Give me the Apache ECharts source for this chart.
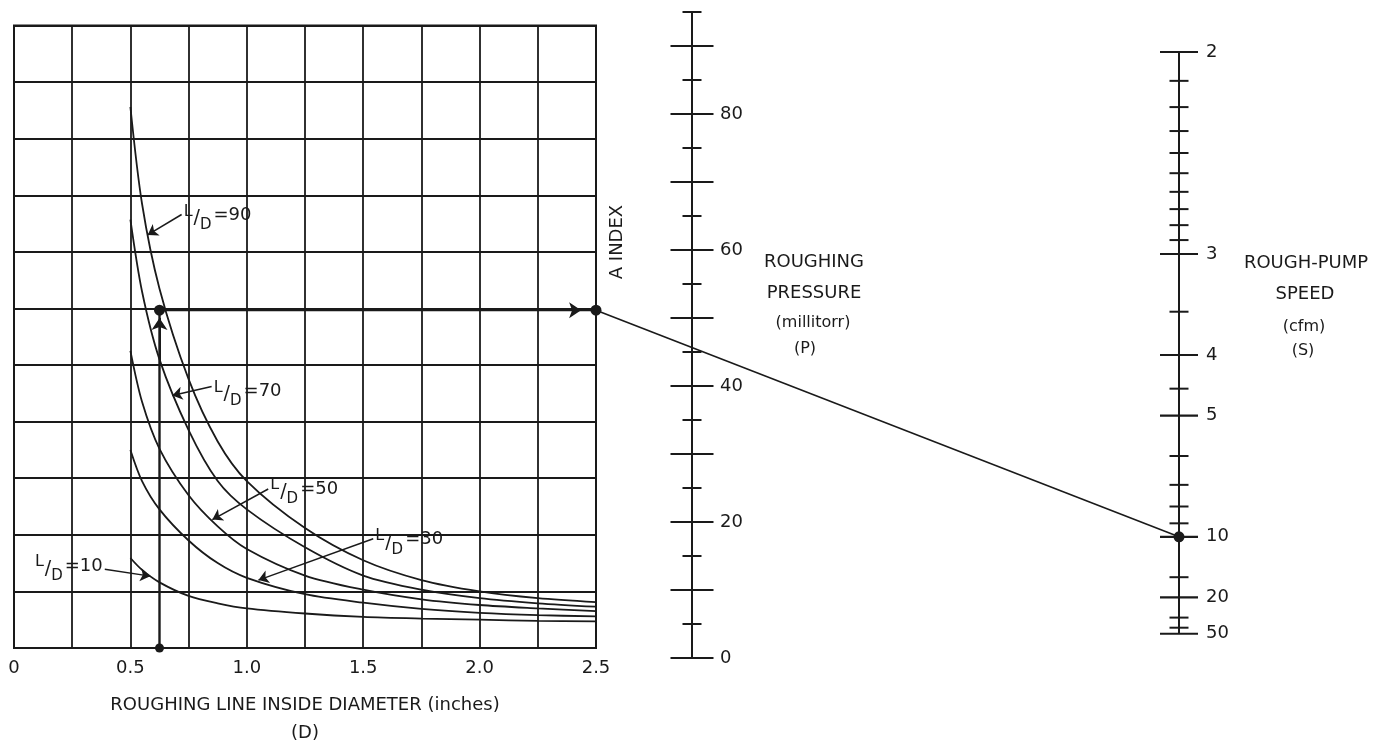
<!DOCTYPE html>
<html>
<head>
<meta charset="utf-8">
<script src="https://cdn.jsdelivr.net/npm/echarts@6/dist/echarts.min.js"></script>
<style>
html,body{margin:0;padding:0;background:#ffffff;}
#chart{width:1394px;height:752px;}
</style>
</head>
<body>
<div id="chart"></div>
<script>
// ---------------- DATA ----------------
const diameters   = [0.5, 0.55, 0.625, 0.75, 0.875, 1.0, 1.25, 1.5, 1.75, 2.0, 2.25, 2.5];
const ldRatios    = [90, 70, 50, 30, 10];
const aIndexLD90  = [9.56, 7.85, 6.35, 4.75, 3.65, 2.95, 2.12, 1.55, 1.20, 1.00, 0.88, 0.81];
const aIndexLD70  = [7.57, 6.30, 5.10, 3.85, 2.95, 2.45, 1.78, 1.28, 1.03, 0.88, 0.79, 0.73];
const aIndexLD50  = [5.25, 4.35, 3.52, 2.70, 2.15, 1.75, 1.28, 1.03, 0.86, 0.76, 0.70, 0.65];
const aIndexLD30  = [3.50, 2.95, 2.45, 1.90, 1.50, 1.24, 0.95, 0.80, 0.69, 0.62, 0.58, 0.56];
const aIndexLD10  = [1.59, 1.38, 1.16, 0.92, 0.79, 0.70, 0.61, 0.55, 0.52, 0.50, 0.48, 0.47];

const xTickValues = [0, 0.5, 1, 1.5, 2, 2.5];
const xTickLabels = ['0', '0.5', '1.0', '1.5', '2.0', '2.5'];

const pMajorTicks = [0, 10, 20, 30, 40, 50, 60, 70, 80, 90];
const pMinorTicks = [5, 15, 25, 35, 45, 55, 65, 75, 85, 95];
const pTickLabels = [0, 20, 40, 60, 80];

const sMajorTicks = [2, 3, 4, 5, 10, 20, 50];
const sMinorTicks = [2.1, 2.2, 2.3, 2.4, 2.5, 2.6, 2.7, 2.8, 2.9, 3.5, 4.5, 6, 7, 8, 9, 15, 30, 40];

const exampleDiameter = [0.625];
const exampleAIndex   = [5.97];
const examplePumpSpeed = [10];

// ---------------- STYLE / LAYOUT ----------------
const INK = '#1a1a1a';
const FONT = 'DejaVu Sans';
const xMax = xTickValues[xTickValues.length - 1];
const curves = [aIndexLD90, aIndexLD70, aIndexLD50, aIndexLD30, aIndexLD10];

// annotation pointer geometry (in grid data units)
const pointerTails = [[0.72, 7.66], [0.849, 4.62], [1.092, 2.81], [1.543, 1.93], [0.39, 1.39]];
const pointerTips  = [[0.574, 7.30], [0.680, 4.46], [0.852, 2.27], [1.05, 1.20], [0.585, 1.27]];
const labelSide    = ['right', 'right', 'right', 'right', 'left'];
const labelOffset  = [[0, 1], [0, 5], [0, 0], [0, 1], [0, -3]];

const ldRich = {
  l: {fontSize: 16, fontFamily: FONT, color: INK, padding: [0, 1, 8, 0]},
  s: {fontSize: 19, fontFamily: FONT, color: INK, padding: [6, 0, 0, 0]},
  d: {fontSize: 15, fontFamily: FONT, color: INK, padding: [20, 2, 0, 0]},
  e: {fontSize: 18, fontFamily: FONT, color: INK}
};

const series = [];

curves.forEach((vals, i) => {
  series.push({
    type: 'line', name: 'L/D=' + ldRatios[i], xAxisIndex: 0, yAxisIndex: 0,
    data: diameters.map((d, j) => [d, vals[j]]),
    smooth: 0.3, symbol: 'none', silent: true, z: 3,
    lineStyle: {color: INK, width: 1.8}
  });
});

// pointer arrows for the L/D annotations
series.push({
  type: 'lines', coordinateSystem: 'cartesian2d', xAxisIndex: 0, yAxisIndex: 0,
  symbol: ['none', 'arrow'], symbolSize: 10, silent: true, z: 5,
  lineStyle: {color: INK, width: 1.5, opacity: 1, curveness: 0},
  data: pointerTails.map((t, i) => ({coords: [t, pointerTips[i]]}))
});

// annotation texts
series.push({
  type: 'scatter', xAxisIndex: 0, yAxisIndex: 0, symbolSize: 0.1, silent: true, z: 6,
  itemStyle: {color: 'rgba(0,0,0,0)', opacity: 1},
  label: {show: true, distance: 2, color: INK, opacity: 1, fontFamily: FONT, rich: ldRich,
          formatter: p => '{l|L}{s|/}{d|D}{e|=' + p.name + '}'},
  data: pointerTails.map((t, i) => ({
    name: String(ldRatios[i]), value: t,
    label: {position: labelSide[i], offset: labelOffset[i]}
  }))
});

// worked example path
series.push({
  type: 'line', xAxisIndex: 0, yAxisIndex: 0, symbol: 'none', silent: true, z: 4,
  lineStyle: {color: INK, width: 2.4},
  data: [[exampleDiameter[0], 0], [exampleDiameter[0], exampleAIndex[0]], [xMax, exampleAIndex[0]]]
});
series.push({
  type: 'lines', coordinateSystem: 'cartesian2d', xAxisIndex: 0, yAxisIndex: 0,
  symbol: ['none', 'arrow'], symbolSize: 12, silent: true, z: 5,
  lineStyle: {color: INK, width: 2, opacity: 1},
  data: [
    {coords: [[exampleDiameter[0], exampleAIndex[0] - 0.9], [exampleDiameter[0], exampleAIndex[0] - 0.14]]},
    {coords: [[xMax - 0.5, exampleAIndex[0]], [xMax - 0.064, exampleAIndex[0]]]}
  ]
});
series.push({
  type: 'scatter', xAxisIndex: 0, yAxisIndex: 0, silent: true, z: 7,
  itemStyle: {color: INK, opacity: 1},
  data: [
    {value: [exampleDiameter[0], 0], symbolSize: 9},
    {value: [exampleDiameter[0], exampleAIndex[0]], symbolSize: 11},
    {value: [xMax, exampleAIndex[0]], symbolSize: 11}
  ]
});

// roughing pressure scale ticks
series.push({
  type: 'scatter', xAxisIndex: 1, yAxisIndex: 1, symbol: 'rect', symbolSize: [43, 2.2],
  silent: true, itemStyle: {color: INK, opacity: 1}, data: pMajorTicks.map(p => [1, p])
});
series.push({
  type: 'scatter', xAxisIndex: 1, yAxisIndex: 1, symbol: 'rect', symbolSize: [19, 2],
  silent: true, itemStyle: {color: INK, opacity: 1}, data: pMinorTicks.map(p => [1, p])
});

// rough-pump speed scale (reciprocal scale: position follows 1/S)
series.push({
  type: 'line', xAxisIndex: 2, yAxisIndex: 2, symbol: 'none', silent: true,
  lineStyle: {color: INK, width: 2},
  data: [[1, 1 / sMajorTicks[0]], [1, 1 / sMajorTicks[sMajorTicks.length - 1]]]
});
series.push({
  type: 'scatter', xAxisIndex: 2, yAxisIndex: 2, symbol: 'rect', symbolSize: [38, 2.2],
  silent: true, itemStyle: {color: INK, opacity: 1},
  label: {show: true, position: 'right', distance: 8, color: INK, opacity: 1, fontFamily: FONT, fontSize: 18,
          formatter: p => p.name},
  data: sMajorTicks.map(s => ({name: String(s), value: [1, 1 / s]}))
});
series.push({
  type: 'scatter', xAxisIndex: 2, yAxisIndex: 2, symbol: 'rect', symbolSize: [19, 2],
  silent: true, itemStyle: {color: INK, opacity: 1}, data: sMinorTicks.map(s => [1, 1 / s])
});
series.push({
  type: 'scatter', xAxisIndex: 2, yAxisIndex: 2, symbolSize: 11, silent: true, z: 7,
  itemStyle: {color: INK, opacity: 1}, data: [[1, 1 / examplePumpSpeed[0]]]
});

const textEl = (txt, x, y, size, extra) => Object.assign({
  type: 'text', x: x, y: y, silent: true, z: 10,
  style: {text: txt, fill: INK, font: size + 'px "' + FONT + '"', align: 'center', verticalAlign: 'middle'}
}, extra || {});

const option = {
  animation: false,
  backgroundColor: '#ffffff',
  grid: [
    {left: 14, top: 25.5, width: 582, height: 632.5, show: true, borderColor: INK, borderWidth: 2, backgroundColor: 'transparent'},
    {left: 652, top: 12, width: 40, height: 646},
    {left: 1139, top: 52, width: 40, height: 606}
  ],
  xAxis: [
    {gridIndex: 0, type: 'value', min: 0, max: xMax, interval: 0.25,
     axisLine: {show: false}, axisTick: {show: false},
     splitLine: {show: true, lineStyle: {color: INK, width: 1.8}},
     axisLabel: {margin: 11, color: INK, fontSize: 18, fontFamily: FONT,
       formatter: v => { const i = xTickValues.findIndex(t => Math.abs(t - v) < 1e-9); return i >= 0 ? xTickLabels[i] : ''; }},
     name: 'ROUGHING LINE INSIDE DIAMETER (inches)\n(D)', nameLocation: 'middle', nameGap: 43,
     nameTextStyle: {color: INK, fontSize: 18, fontFamily: FONT, lineHeight: 28}},
    {gridIndex: 1, type: 'value', min: 0, max: 1, show: false},
    {gridIndex: 2, type: 'value', min: 0, max: 1, show: false}
  ],
  yAxis: [
    {gridIndex: 0, type: 'value', min: 0, max: 11, interval: 1,
     axisLine: {show: false}, axisTick: {show: false}, axisLabel: {show: false},
     splitLine: {show: true, lineStyle: {color: INK, width: 1.8}}},
    {gridIndex: 1, type: 'value', min: 0, max: 95, interval: 5, position: 'right',
     axisLine: {show: true, onZero: false, lineStyle: {color: INK, width: 2}}, axisTick: {show: false}, splitLine: {show: false},
     axisLabel: {margin: 28, color: INK, fontSize: 18, fontFamily: FONT,
       formatter: v => pTickLabels.indexOf(v) >= 0 ? String(v) : ''}},
    {gridIndex: 2, type: 'value', min: 0, max: 0.5, show: false}
  ],
  graphic: {elements: [
    textEl('A INDEX', 617, 242, 18, {rotation: Math.PI / 2}),
    textEl('ROUGHING', 814, 262, 18),
    textEl('PRESSURE', 814, 293, 18),
    textEl('(millitorr)', 813, 323, 16),
    textEl('(P)', 805, 349, 16),
    textEl('ROUGH-PUMP', 1306, 263, 18),
    textEl('SPEED', 1305, 294, 18),
    textEl('(cfm)', 1304, 327, 16),
    textEl('(S)', 1303, 351, 16)
  ]},
  series: series
};

const chart = echarts.init(document.getElementById('chart'), null, {renderer: 'canvas'});
chart.setOption(option);

// connector line of the nomogram: A index point -> pump speed point
const pA = chart.convertToPixel({xAxisIndex: 0, yAxisIndex: 0}, [xMax, exampleAIndex[0]]);
const pS = chart.convertToPixel({xAxisIndex: 2, yAxisIndex: 2}, [1, 1 / examplePumpSpeed[0]]);
chart.setOption({graphic: {elements: [{
  id: 'connector', type: 'line', silent: true, z: 2,
  shape: {x1: pA[0], y1: pA[1], x2: pS[0], y2: pS[1]},
  style: {stroke: INK, lineWidth: 1.6}
}]}});
</script>
</body>
</html>
